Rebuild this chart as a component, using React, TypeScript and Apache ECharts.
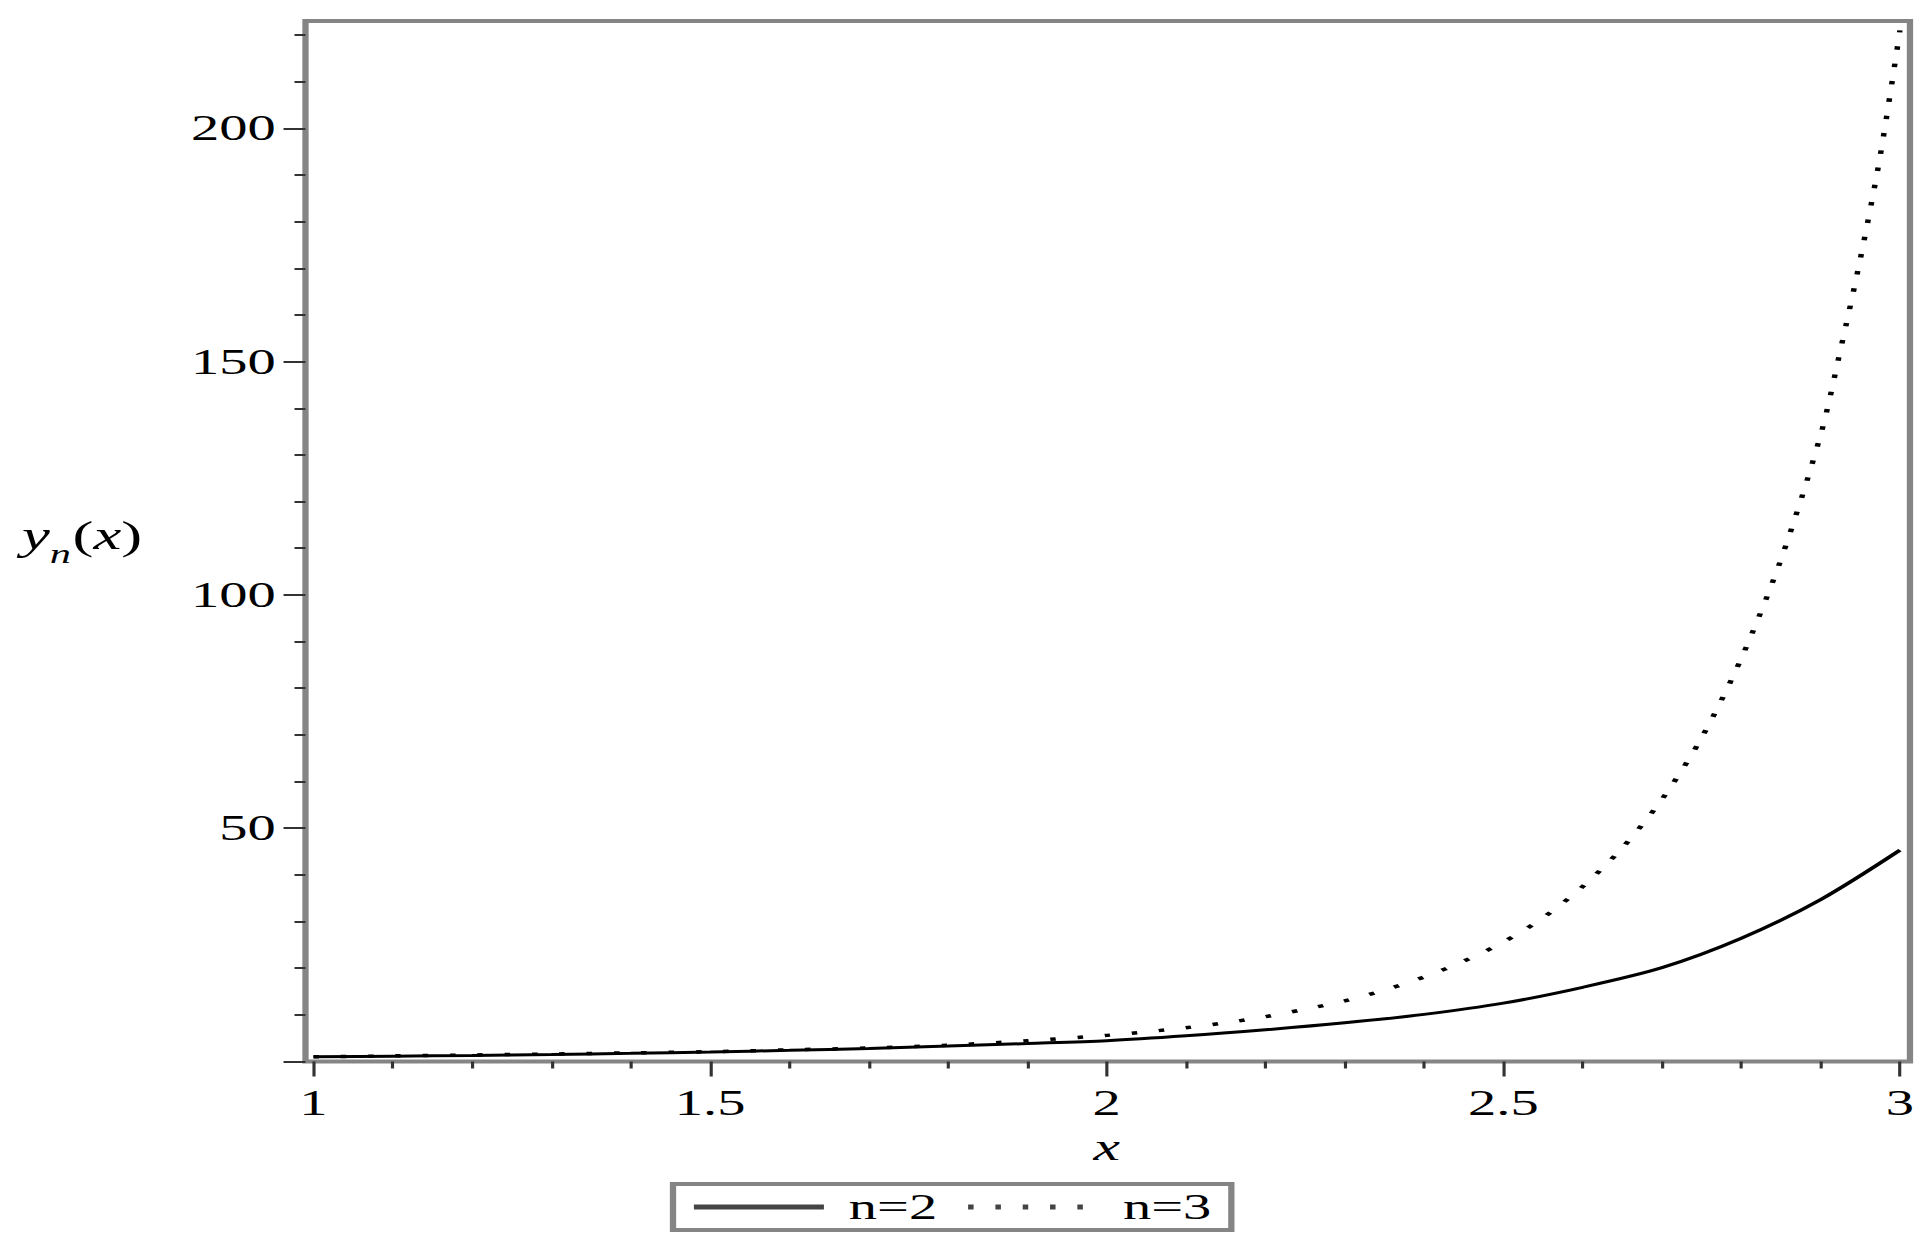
import React, { useEffect, useRef } from "react";
import * as echarts from "echarts";

// The reference picture is stretched horizontally; the chart is drawn in an
// unstretched frame and scaled along x by S.
const S = 1.57;
const W = 1928;
const H = 1253;
const W0 = W / S;
const px = (v: number) => v / S;

const FONT = '"Liberation Serif", "Times New Roman", serif';

// ---- data ----
const seriesNames = ["n=2", "n=3"];

const xN2 = [1.0, 1.1, 1.2, 1.3, 1.4, 1.5, 1.6, 1.7, 1.8, 1.9, 2.0, 2.1, 2.2, 2.3, 2.4, 2.5, 2.6, 2.7, 2.8, 2.9, 3.0];
const yN2 = [1.0, 1.15, 1.3, 1.5, 1.75, 2.05, 2.4, 2.8, 3.3, 3.85, 4.45, 5.5, 6.8, 8.3, 10.1, 12.5, 15.9, 20.1, 26.4, 34.7, 45.3];

const xN3 = [1.0, 1.1, 1.2, 1.3, 1.4, 1.5, 1.6, 1.7, 1.8, 1.9, 2.0, 2.05, 2.1, 2.15, 2.2, 2.25, 2.3, 2.35, 2.4, 2.45, 2.5, 2.55, 2.6, 2.65, 2.7, 2.75, 2.8, 2.85, 2.9, 2.925, 2.95, 2.975, 3.0];
const yN3 = [1.0, 1.2, 1.4, 1.6, 1.85, 2.1, 2.5, 2.9, 3.5, 4.45, 5.6, 6.35, 7.25, 8.3, 9.6, 11.2, 13.0, 15.3, 18.1, 21.5, 25.6, 30.8, 37.5, 45.8, 56.2, 69.4, 86.4, 107.6, 134.3, 152.5, 172.0, 194.0, 221.0];

const xMin = 1;
const xMax = 3;
const xInterval = 0.5;
const yMin = 0;
const yMax = 223;
const yInterval = 50;
const yTickValues = [0, 50, 100, 150, 200];
const yLabelValues = [50, 100, 150, 200];

export default function App() {
  const ref = useRef<HTMLDivElement>(null);

  useEffect(() => {
    const chart = echarts.init(ref.current as HTMLDivElement, null, { renderer: "svg" });
    const frameColor = "#858585";
    const tickStyle = { color: "#333", width: 2 };

    chart.setOption({
      animation: false,
      backgroundColor: "#fff",
      grid: [
        {
          left: px(305.5),
          right: px(W - 1910),
          top: 21,
          bottom: H - 1061.5,
          show: true,
          borderColor: frameColor,
          borderWidth: 4,
          backgroundColor: "transparent",
        },
        {
          left: px(313.5),
          right: px(W - 1900),
          top: 21,
          bottom: H - 1061.5,
        },
      ],
      xAxis: [
        { gridIndex: 0, type: "value", min: 0, max: 1, show: false },
        {
          gridIndex: 1,
          type: "value",
          min: xMin,
          max: xMax,
          interval: xInterval,
          name: "x",
          nameLocation: "middle",
          nameGap: 86,
          nameTextStyle: {
            fontFamily: FONT,
            fontStyle: "italic",
            fontSize: 38,
            color: "#000",
            verticalAlign: "middle",
          },
          axisLine: { show: false },
          axisTick: { show: true, length: 15, lineStyle: tickStyle },
          minorTick: { show: true, splitNumber: 5, length: 7, lineStyle: tickStyle },
          splitLine: { show: false },
          minorSplitLine: { show: false },
          axisLabel: {
            margin: 23,
            color: "#000",
            fontFamily: FONT,
            fontSize: 36,
          },
        },
      ],
      yAxis: [
        {
          gridIndex: 0,
          type: "value",
          min: yMin,
          max: yMax,
          interval: yInterval,
          name: "{i|y}{s|n}{p|(}{i|x}{p|)}",
          nameLocation: "middle",
          nameRotate: 0,
          nameGap: 104,
          nameTextStyle: {
            align: "right",
            verticalAlign: "middle",
            color: "#000",
            rich: {
              i: { fontFamily: FONT, fontStyle: "italic", fontSize: 40, color: "#000", verticalAlign: "bottom", padding: [0, 0, 12, 0] },
              s: { fontFamily: FONT, fontStyle: "italic", fontSize: 27, color: "#000", verticalAlign: "bottom", padding: [0, 1, 0, 0] },
              p: { fontFamily: FONT, fontSize: 40, color: "#000", verticalAlign: "bottom", padding: [0, 0, 12, 0] },
            },
          },
          axisLine: { show: false },
          axisTick: { show: true, length: 14, customValues: yTickValues, lineStyle: tickStyle },
          minorTick: { show: true, splitNumber: 5, length: 7, lineStyle: tickStyle },
          splitLine: { show: false },
          minorSplitLine: { show: false },
          axisLabel: {
            customValues: yLabelValues,
            margin: 19,
            color: "#000",
            fontFamily: FONT,
            fontSize: 36,
          },
        },
        { gridIndex: 1, type: "value", min: yMin, max: yMax, show: false },
      ],
      legend: {
        show: true,
        orient: "horizontal",
        left: px(673),
        top: 1184,
        padding: [5, px(20), 5, px(17)],
        itemWidth: px(130),
        itemHeight: 16,
        itemGap: px(27),
        borderColor: frameColor,
        borderWidth: 4,
        borderRadius: 0,
        backgroundColor: "#fff",
        selectedMode: false,
        itemStyle: { opacity: 0 },
        lineStyle: { width: 5, color: "#444" },
        textStyle: {
          fontFamily: FONT,
          fontSize: 36,
          color: "#000",
          padding: [0, 0, 0, px(17)],
        },
        data: seriesNames,
      },
      series: [
        {
          name: seriesNames[0],
          type: "line",
          xAxisIndex: 1,
          yAxisIndex: 1,
          data: xN2.map((x, i) => [x, yN2[i]]),
          symbol: "none",
          showSymbol: false,
          smooth: 0.3,
          color: "#000",
          lineStyle: { color: "#000", width: 3 },
          z: 3,
        },
        {
          name: seriesNames[1],
          type: "line",
          xAxisIndex: 1,
          yAxisIndex: 1,
          data: xN3.map((x, i) => [x, yN3[i]]),
          symbol: "none",
          showSymbol: false,
          smooth: 0.3,
          color: "#000",
          lineStyle: { color: "#000", width: 3.5, type: [3.5, 13.9], cap: "butt" },
          z: 2,
        },
      ],
    });

    return () => chart.dispose();
  }, []);

  return (
    <div
      ref={ref}
      style={{
        position: "absolute",
        left: 0,
        top: 0,
        width: W0,
        height: H,
        transform: `scaleX(${S})`,
        transformOrigin: "0 0",
        background: "#fff",
      }}
    />
  );
}
